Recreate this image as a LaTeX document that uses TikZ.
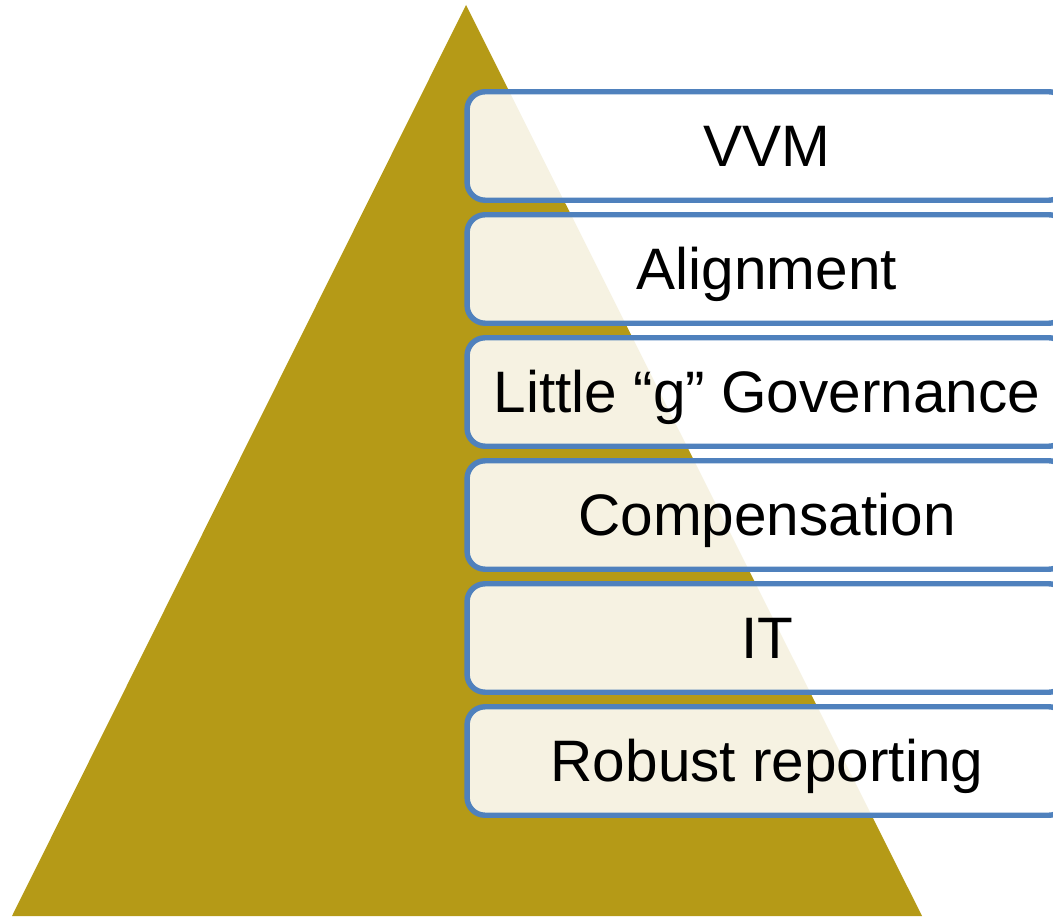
\documentclass[tikz,border=0pt]{standalone}
\usepackage{fontspec}
\setmainfont{Liberation Sans}

\definecolor{pyrgold}{HTML}{B59A17}
\definecolor{boxblue}{HTML}{4F81BD}

\tikzset{
    layer/.style={draw=boxblue,line width=3.1pt,rounded corners=0.36cm,
        fill=white,fill opacity=0.88,text opacity=1,
        minimum width=12cm,minimum height=2.17cm,
        text height=23.6pt,text depth=0pt,
        font=\fontsize{33.3pt}{40pt}\selectfont}
}

\begin{document}
\begin{tikzpicture}[x=0.02cm,y=0.02cm]
    \useasboundingbox (0,0) rectangle (1053,916);
    \clip (0,0) rectangle (1053,916);

    % the pyramid
    \coordinate (L) at (12,0);
    \coordinate (T) at (466,911);
    \coordinate (R) at (922,0);
    \fill[pyrgold] (L) -- (T) -- (R) -- cycle;

    % stacked layers, top to bottom
    \foreach \txt [count=\i] in {VVM,Alignment,Little “g” Governance,
            Compensation,IT,Robust reporting} {
        \pgfmathsetmacro{\yc}{770-123*(\i-1)}
        \node[layer] (layer\i) at (767,\yc) {\txt};
    }
\end{tikzpicture}
\end{document}
